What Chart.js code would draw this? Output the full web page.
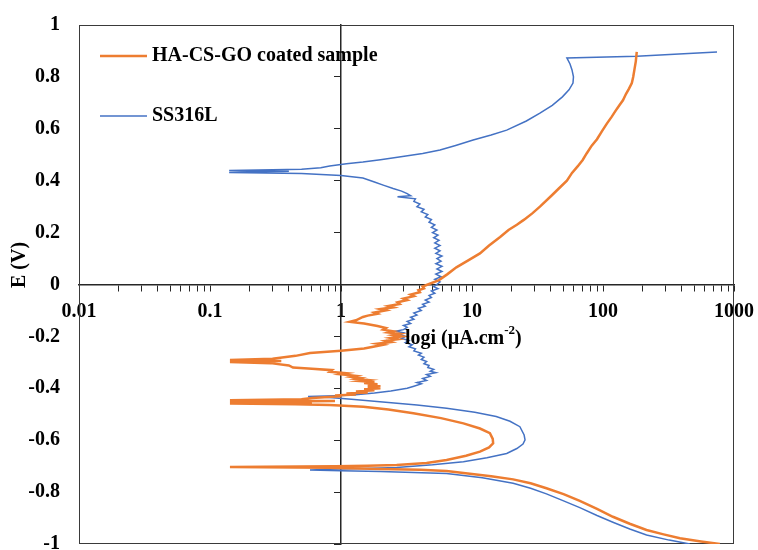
<!DOCTYPE html>
<html>
<head>
<meta charset="utf-8">
<script src="https://cdn.jsdelivr.net/npm/chart.js@4.4.1/dist/chart.umd.min.js"></script>
<style>
    html, body { margin: 0; padding: 0; background: #ffffff; }
    #wrap { width: 758px; height: 550px; position: relative; }
</style>
</head>
<body>
<div id="wrap"><canvas id="tafelChart"></canvas></div>
<script>
// Series labels
const seriesNames = ['HA-CS-GO coated sample', 'SS316L'];

// HA-CS-GO coated sample: current density (µA/cm2) and potential (V), in scan order
const coatedCurrent = [
    780, 560, 387, 290, 215, 160, 119, 90, 66.5, 50, 37, 28, 20.6, 14, 10, 6.4, 4.0, 2.0, 0.8, 0.142,
    0.9, 1.6, 2.66, 4.5, 6.4, 9, 11.5, 13.5, 14.5, 14.4, 13.7, 11.5, 8.6, 5.8, 3.57, 2.3, 1.48, 0.82,
    0.45, 0.142, 0.6, 0.142, 0.9, 0.142, 0.5,
    0.6, 1.0, 0.9, 1.3, 1.1, 1.6, 1.3, 1.8, 1.5, 2.0, 1.6, 2.0, 1.6, 1.9, 1.5, 1.8, 1.4, 1.6, 1.3, 1.4,
    1.2, 1.3, 1.0, 1.1, 0.82, 0.85, 0.6, 0.43, 0.4, 0.29, 0.142, 0.35, 0.142, 0.3, 0.45, 0.58,
    1.0, 1.5, 1.76, 2.1, 1.9, 2.4, 2.2, 2.7, 2.4, 2.9, 2.5, 2.8, 2.3, 2.5, 2.1, 2.2, 1.9, 1.5, 1.17, 1.3,
    1.47, 1.6, 1.9, 1.8, 2.2, 2.0, 2.5, 2.3, 2.8, 2.7, 3.2, 3.0, 3.6, 3.4, 4.0, 3.9, 4.3, 4.2, 4.6,
    5.6, 6.5, 7.6, 9.5, 11.5, 13.5, 16.4, 19, 22, 25, 29, 33, 40, 46, 53, 58, 64, 70, 75, 82, 90, 98,
    107, 116, 125, 133, 142, 150, 158, 166, 170, 174, 178, 181
];
const coatedPotential = [
    -1.000, -0.990, -0.978, -0.963, -0.946, -0.922, -0.895, -0.865, -0.834, -0.808, -0.785, -0.766, -0.751, -0.739, -0.730, -0.719, -0.714, -0.711, -0.706, -0.703,
    -0.700, -0.698, -0.696, -0.688, -0.676, -0.660, -0.644, -0.628, -0.612, -0.595, -0.573, -0.555, -0.535, -0.515, -0.496, -0.482, -0.471, -0.464,
    -0.461, -0.459, -0.456, -0.453, -0.449, -0.446, -0.442,
    -0.437, -0.431, -0.428, -0.424, -0.420, -0.416, -0.412, -0.408, -0.404, -0.400, -0.396, -0.392, -0.388, -0.384, -0.380, -0.376, -0.372, -0.368, -0.364, -0.360,
    -0.356, -0.352, -0.346, -0.342, -0.336, -0.330, -0.325, -0.320, -0.312, -0.303, -0.299, -0.295, -0.291, -0.286, -0.275, -0.264,
    -0.255, -0.247, -0.240, -0.232, -0.228, -0.222, -0.217, -0.211, -0.206, -0.200, -0.195, -0.190, -0.185, -0.180, -0.174, -0.168, -0.160, -0.150, -0.144, -0.138,
    -0.125, -0.120, -0.113, -0.108, -0.100, -0.095, -0.088, -0.083, -0.075, -0.069, -0.060, -0.054, -0.045, -0.039, -0.030, -0.022, -0.015, -0.008, 0.000,
    0.017, 0.040, 0.066, 0.095, 0.120, 0.150, 0.183, 0.210, 0.230, 0.250, 0.275, 0.300, 0.340, 0.370, 0.400, 0.430, 0.455, 0.480, 0.505, 0.535, 0.560, 0.590,
    0.620, 0.645, 0.670, 0.690, 0.710, 0.735, 0.755, 0.776, 0.800, 0.830, 0.860, 0.896
];

// SS316L
const bareCurrent = [
    460, 320, 215, 160, 119, 90, 66.5, 50, 37, 28, 20.6, 12, 6.4, 2.0, 1.0, 0.58,
    0.82, 1.5, 2.66, 5, 8.6, 13, 18.4, 22, 24.5, 25.4, 25, 23.2, 19.5, 15.3, 10.5, 6.4, 3.8, 1.98, 1.2, 0.82,
    0.56, 0.9, 1.23, 1.8, 2.4, 3.2, 3.6, 4.1, 3.8, 4.5, 4.2, 4.8, 4.5, 5.3, 4.8, 5.1, 4.6, 4.7, 4.3, 4.5,
    4.1, 4.3, 3.9, 4.1, 3.6, 3.7, 3.3, 3.5, 3.1, 3.3, 2.9, 3.1, 2.8, 3.0, 2.6, 3.0, 3.2, 3.0, 3.4, 3.2,
    3.6, 3.4, 3.8, 3.6, 4.1, 3.9, 4.4, 4.2, 4.7, 4.4, 4.9, 4.7, 5.2, 4.9, 5.5, 5.1, 5.4,
    5.7, 5.2, 5.8, 5.3, 5.9, 5.4, 5.9, 5.3, 5.8, 5.4, 5.9, 5.3, 5.7, 5.2, 5.7, 5.2, 5.6, 5.1, 5.5, 5.0,
    5.4, 4.9, 5.2, 4.7, 4.9, 4.4, 4.6, 4.1, 4.3, 3.8, 4.0, 3.6, 3.7, 2.7, 3.4, 3.2, 2.9, 2.5, 2.1, 1.8,
    1.47, 1.0, 0.5, 0.14, 0.4, 0.14, 0.5, 0.7, 0.82, 1.1, 1.47, 2.0, 2.7, 4.2, 5.7, 7.5, 10.2, 14, 18.4,
    26, 33, 41, 49, 55, 59, 59.5, 58, 56, 53, 181, 350, 742
];
const barePotential = [
    -1.000, -0.985, -0.965, -0.942, -0.916, -0.890, -0.860, -0.834, -0.807, -0.785, -0.766, -0.745, -0.728, -0.721, -0.718, -0.715,
    -0.712, -0.709, -0.705, -0.695, -0.683, -0.668, -0.651, -0.632, -0.615, -0.599, -0.580, -0.548, -0.527, -0.509, -0.492, -0.477, -0.464, -0.452, -0.442, -0.435,
    -0.432, -0.429, -0.426, -0.418, -0.410, -0.400, -0.392, -0.383, -0.378, -0.370, -0.362, -0.354, -0.347, -0.340, -0.334, -0.327, -0.320, -0.312, -0.305, -0.297,
    -0.289, -0.280, -0.272, -0.265, -0.256, -0.248, -0.240, -0.232, -0.224, -0.216, -0.208, -0.200, -0.192, -0.186, -0.180, -0.174, -0.165, -0.158, -0.150, -0.142,
    -0.134, -0.126, -0.118, -0.110, -0.100, -0.092, -0.084, -0.076, -0.068, -0.060, -0.050, -0.042, -0.034, -0.025, -0.016, -0.008, 0.000,
    0.010, 0.020, 0.030, 0.040, 0.050, 0.060, 0.070, 0.080, 0.090, 0.100, 0.110, 0.120, 0.130, 0.140, 0.150, 0.160, 0.170, 0.180, 0.190, 0.200,
    0.210, 0.220, 0.230, 0.240, 0.250, 0.260, 0.270, 0.280, 0.290, 0.300, 0.310, 0.320, 0.330, 0.338, 0.342, 0.350, 0.360, 0.370, 0.383, 0.395,
    0.410, 0.420, 0.428, 0.432, 0.436, 0.439, 0.444, 0.450, 0.457, 0.465, 0.472, 0.481, 0.490, 0.505, 0.518, 0.536, 0.557, 0.576, 0.595,
    0.630, 0.660, 0.690, 0.723, 0.750, 0.776, 0.800, 0.827, 0.850, 0.873, 0.880, 0.887, 0.896
];

// Axis ticks
const decadeTicks = [0.01, 0.1, 1, 10, 100, 1000];
const decadeLabels = ['0.01', '0.1', '1', '10', '100', '1000'];
const minorSteps = [2, 3, 4, 5, 6, 7, 8, 9];

const fontFamily = "'Liberation Serif', 'Times New Roman', serif";
const tickFont = { family: fontFamily, size: 20, weight: 'bold' };
const axisColor = '#262626';

function toPoints(xs, ys) {
    return xs.map((x, i) => ({ x: x, y: ys[i] }));
}

// Frame around the plot area
const framePlugin = {
    id: 'frame',
    beforeDatasetsDraw(chart) {
        const { ctx, chartArea: a } = chart;
        ctx.save();
        ctx.strokeStyle = '#3a3a3a';
        ctx.lineWidth = 1;
        ctx.strokeRect(a.left + 0.5, a.top + 0.5, a.right - a.left - 1, a.bottom - a.top - 1);
        ctx.restore();
    }
};

// Legend inside the plot + axis titles
const labelsPlugin = {
    id: 'labels',
    afterDraw(chart) {
        const { ctx, chartArea: a } = chart;
        const yZero = chart.scales.y.getPixelForValue(0);
        ctx.save();
        ctx.font = 'bold 20px ' + fontFamily;
        ctx.fillStyle = '#000000';
        ctx.textBaseline = 'middle';

        // legend
        chart.data.datasets.forEach((ds, i) => {
            const rowY = a.top + 31 + i * 60;
            ctx.strokeStyle = ds.borderColor;
            ctx.lineWidth = ds.borderWidth;
            ctx.beginPath();
            ctx.moveTo(a.left + 21, rowY);
            ctx.lineTo(a.left + 68, rowY);
            ctx.stroke();
            ctx.textAlign = 'left';
            ctx.fillText(ds.label, a.left + 73, rowY);
        });

        // x title: logi (µA.cm-2)
        let tx = a.left + 326;
        const ty = yZero + 54;
        ctx.textAlign = 'left';
        const part1 = 'logi (\u00b5A.cm';
        ctx.fillText(part1, tx, ty);
        tx += ctx.measureText(part1).width;
        ctx.font = 'bold 13px ' + fontFamily;
        ctx.fillText('-2', tx, ty - 8);
        tx += ctx.measureText('-2').width;
        ctx.font = 'bold 20px ' + fontFamily;
        ctx.fillText(')', tx, ty);

        // y title
        ctx.translate(20, a.top + 240);
        ctx.rotate(-Math.PI / 2);
        ctx.textAlign = 'center';
        ctx.fillText('E (V)', 0, 0);
        ctx.restore();
    }
};

const ctx = document.getElementById('tafelChart').getContext('2d');

new Chart(ctx, {
    type: 'scatter',
    data: {
        datasets: [
            {
                label: seriesNames[0],
                data: toPoints(coatedCurrent, coatedPotential),
                showLine: true,
                borderColor: '#ED7D31',
                backgroundColor: '#ED7D31',
                borderWidth: 2.5,
                pointRadius: 0,
                tension: 0
            },
            {
                label: seriesNames[1],
                data: toPoints(bareCurrent, barePotential),
                showLine: true,
                borderColor: '#4472C4',
                backgroundColor: '#4472C4',
                borderWidth: 1.5,
                pointRadius: 0,
                tension: 0
            }
        ]
    },
    options: {
        responsive: true,
        maintainAspectRatio: false,
        animation: false,
        layout: { padding: { top: 25, right: 24, bottom: 6, left: 0 } },
        plugins: {
            legend: { display: false },
            tooltip: { enabled: false }
        },
        scales: {
            x: {
                type: 'logarithmic',
                min: 0.01,
                max: 1000,
                position: { y: 0 },
                afterBuildTicks: (scale) => {
                    const ticks = [];
                    decadeTicks.forEach((d, i) => {
                        ticks.push({ value: d });
                        if (i < decadeTicks.length - 1) {
                            minorSteps.forEach(k => ticks.push({ value: k * d }));
                        }
                    });
                    scale.ticks = ticks;
                },
                afterFit: (scale) => {
                    scale.paddingLeft = 0;
                    scale.paddingRight = 0;
                },
                grid: {
                    drawOnChartArea: false,
                    drawTicks: true,
                    tickLength: 6,
                    color: axisColor
                },
                border: { display: true, color: axisColor, width: 1.5 },
                ticks: {
                    autoSkip: false,
                    maxRotation: 0,
                    padding: 9,
                    color: '#000000',
                    font: tickFont,
                    callback: (value) => {
                        const i = decadeTicks.indexOf(value);
                        return i >= 0 ? decadeLabels[i] : '';
                    }
                }
            },
            y: {
                type: 'linear',
                position: 'left',
                min: -1,
                max: 1,
                grid: { display: false, drawTicks: false },
                border: { display: false },
                ticks: {
                    stepSize: 0.2,
                    padding: 19,
                    color: '#000000',
                    font: tickFont,
                    callback: (value) => Number(value.toFixed(1)).toString()
                },
                afterFit: (scale) => {
                    scale.width = 79;
                    scale.paddingTop = 0;
                    scale.paddingBottom = 0;
                }
            },
            y2: {
                type: 'linear',
                position: { x: 1 },
                min: -1,
                max: 1,
                grid: {
                    drawOnChartArea: false,
                    drawTicks: true,
                    tickLength: 6,
                    color: axisColor
                },
                border: { display: true, color: axisColor, width: 1.5 },
                ticks: { stepSize: 0.2, display: false }
            }
        }
    },
    plugins: [framePlugin, labelsPlugin]
});
</script>
</body>
</html>
